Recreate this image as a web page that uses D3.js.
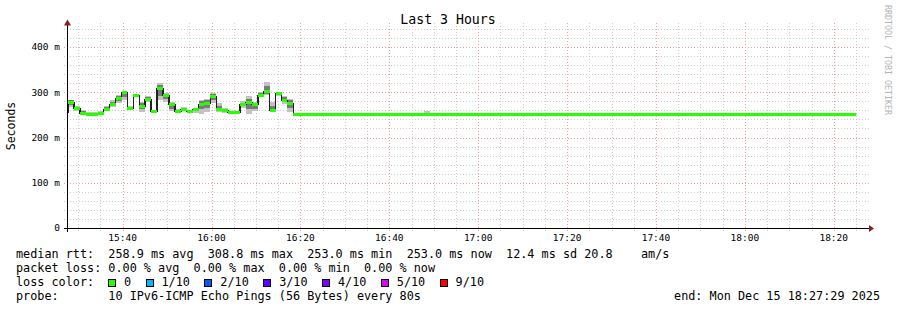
<!DOCTYPE html>
<html>
<head>
<meta charset="utf-8">
<script src="https://cdn.jsdelivr.net/npm/d3@7"></script>
<style>
  html, body { margin: 0; padding: 0; background: #fff; }
  svg { display: block; }
  text { font-family: "DejaVu Sans Mono", monospace; fill: #000; white-space: pre; }
</style>
</head>
<body>
<svg id="chart" width="897" height="310"></svg>
<script>
// time helper: all times are on Mon Dec 15 2025, local
const t = s => { const [h, m, sec] = s.split(":").map(Number); return new Date(2025, 11, 15, h, m, sec || 0); };

const rangeStart = t("15:27:29");
const rangeEnd = t("18:27:29");

// 80 s steps, first one starts before the graph and is clipped
const stepStart = t("15:26:25");
const stepSec = 80;
const medianMs = [257, 279, 265, 255, 253, 253, 255, 264, 275, 287, 300, 265, 294, 270, 286, 258, 308.8, 295, 274,
  258, 264, 258, 262, 275, 276, 292, 264, 260, 256, 256, 273, 278, 274, 295, 303, 261, 298, 283, 276];
const smokeLo = [255, 267, 259, 253, 252, 252, 253, 259, 268, 276, 284, 261, 290, 257, 278, 255, 283, 279, 258,
  255, 259, 255, 255, 253, 257, 276, 257, 255, 253, 253, 266, 253, 258, 291, 293, 258, 291, 275, 257];
const smokeHi = [262, 284, 270, 260, 256, 256, 259, 270, 282, 294, 303, 270, 297, 279, 291, 261, 321, 298, 279,
  262, 267, 261, 264, 282, 286, 299, 276, 265, 259, 259, 280, 292, 279, 300, 323, 279, 300, 292, 286];
const coreLo = [256, 272, 262, 254, 252, 252, 254, 261, 271, 281, 290, 263, 292, 262, 282, 256, 292, 286, 264,
  256, 261, 256, 258, 262, 265, 283, 260, 257, 254, 254, 269, 262, 264, 293, 297, 259, 294, 278, 265];
const coreHi = [259, 282, 268, 258, 254, 254, 257, 267, 279, 291, 302, 268, 296, 276, 289, 260, 315, 297, 277,
  260, 266, 260, 263, 280, 282, 296, 270, 263, 258, 258, 277, 286, 277, 298, 314, 270, 299, 289, 282];

// after 16:18 the median stays flat
const tailStart = t("16:18:25");
const tailEnd = t("18:25:05");
const tailMs = 253;
const blipTimes = [t("16:47:45"), t("16:49:05")];
const blipMs = [253, 259];

const yTickValues = [0, 100, 200, 300, 400];
const yTickLabels = ["0", "100 m", "200 m", "300 m", "400 m"];
const xTickLabels = ["15:40", "16:00", "16:20", "16:40", "17:00", "17:20", "17:40", "18:00", "18:20"];

const lossLabels = ["0", "1/10", "2/10", "3/10", "4/10", "5/10", "9/10"];
const lossColors = ["#26ff00", "#00b8ff", "#0059ff", "#5e00ff", "#7e00ff", "#dd00ff", "#ff0000"];

const legendRtt = "median rtt:  258.9 ms avg  308.8 ms max  253.0 ms min  253.0 ms now  12.4 ms sd 20.8    am/s";
const legendLoss = "packet loss: 0.00 % avg  0.00 % max  0.00 % min  0.00 % now";
const legendProbe = "probe:       10 IPv6-ICMP Echo Pings (56 Bytes) every 80s";
const legendEnd = "end: Mon Dec 15 18:27:29 2025";

const svg = d3.select("#chart");
const pLeft = 67, pRight = 867, pBottom = 228, pTop = 24.4;

const x = d3.scaleTime().domain([rangeStart, rangeEnd]).range([pLeft, pRight]);
const y = d3.scaleLinear().domain([0, 450]).range([pBottom, pTop]);

svg.append("rect").attr("width", 897).attr("height", 310).attr("fill", "#fff");

// grid
const grid = svg.append("g").attr("shape-rendering", "crispEdges").attr("stroke-dasharray", "1,2");
const minorY = y.ticks(23).filter(v => v % 100 !== 0);
grid.selectAll(".hy").data(minorY).join("line")
  .attr("x1", pLeft - 3).attr("x2", pRight + 2)
  .attr("y1", d => Math.round(y(d)) + 0.5).attr("y2", d => Math.round(y(d)) + 0.5)
  .attr("stroke", "#cdcdcd");
const minorX = x.ticks(d3.timeMinute.every(5)).filter(d => d.getMinutes() % 20 !== 0);
grid.selectAll(".vx").data(minorX).join("line")
  .attr("x1", d => Math.round(x(d)) + 0.5).attr("x2", d => Math.round(x(d)) + 0.5)
  .attr("y1", pTop - 1).attr("y2", pBottom + 3)
  .attr("stroke", "#cdcdcd");
grid.selectAll(".hY").data(yTickValues.filter(v => v > 0)).join("line")
  .attr("x1", pLeft - 3).attr("x2", pRight + 2)
  .attr("y1", d => Math.round(y(d)) + 0.5).attr("y2", d => Math.round(y(d)) + 0.5)
  .attr("stroke", "#e8a2a2");
grid.selectAll(".vX").data(xTickLabels.map(s => t(s))).join("line")
  .attr("x1", d => Math.round(x(d)) + 0.5).attr("x2", d => Math.round(x(d)) + 0.5)
  .attr("y1", pTop - 1).attr("y2", pBottom + 3)
  .attr("stroke", "#e8a2a2");

// data
svg.append("clipPath").attr("id", "plot").append("rect")
  .attr("x", pLeft).attr("y", 0).attr("width", pRight - pLeft).attr("height", pBottom);
const plot = svg.append("g").attr("clip-path", "url(#plot)").attr("shape-rendering", "crispEdges");

const steps = medianMs.map((m, i) => ({
  t0: d3.timeSecond.offset(stepStart, i * stepSec),
  t1: d3.timeSecond.offset(stepStart, (i + 1) * stepSec),
  med: m, lo: smokeLo[i], hi: smokeHi[i], clo: coreLo[i], chi: coreHi[i]
}));

plot.selectAll(".smoke").data(steps).join("rect")
  .attr("x", d => x(d.t0)).attr("width", d => x(d.t1) - x(d.t0))
  .attr("y", d => y(d.hi)).attr("height", d => y(d.lo) - y(d.hi))
  .attr("fill", "#c2c2c2");
plot.selectAll(".core").data(steps).join("rect")
  .attr("x", d => x(d.t0)).attr("width", d => x(d.t1) - x(d.t0))
  .attr("y", d => y(d.chi)).attr("height", d => y(d.clo) - y(d.chi))
  .attr("fill", "#7a7a7a");
plot.append("rect")
  .attr("x", x(blipTimes[0])).attr("width", x(blipTimes[1]) - x(blipTimes[0]))
  .attr("y", y(blipMs[1])).attr("height", y(blipMs[0]) - y(blipMs[1]))
  .attr("fill", "#c2c2c2");

const linePts = steps.map(d => [d.t0, d.med]).concat([[tailStart, tailMs], [tailEnd, tailMs]]);
plot.append("path")
  .attr("d", d3.line().x(d => x(d[0])).y(d => Math.round(y(d[1])) + 0.5).curve(d3.curveStepAfter)(linePts))
  .attr("fill", "none").attr("stroke", "#202020").attr("stroke-width", 1.5);

const medBars = steps.map(d => ({ t0: d.t0, t1: d.t1, med: d.med }))
  .concat([{ t0: tailStart, t1: tailEnd, med: tailMs }]);
plot.selectAll(".med").data(medBars).join("rect")
  .attr("x", d => x(d.t0)).attr("width", d => x(d.t1) - x(d.t0))
  .attr("y", d => Math.round(y(d.med)) - 1).attr("height", 3)
  .attr("fill", lossColors[0]);

// axes
const ax = svg.append("g").attr("shape-rendering", "crispEdges");
ax.append("line").attr("x1", pLeft - 3).attr("x2", pRight + 2).attr("y1", pBottom + 0.5).attr("y2", pBottom + 0.5)
  .attr("stroke", "#000");
ax.append("line").attr("x1", pLeft + 0.5).attr("x2", pLeft + 0.5).attr("y1", pTop).attr("y2", pBottom + 4)
  .attr("stroke", "#000");
svg.append("path").attr("d", `M${pRight + 2},${pBottom - 3} L${pRight + 7},${pBottom + 0.5} L${pRight + 2},${pBottom + 4} Z`)
  .attr("fill", "#8b1e1e");
svg.append("path").attr("d", `M${pLeft - 3},${pTop + 1} L${pLeft + 0.5},${pTop - 5} L${pLeft + 4},${pTop + 1} Z`)
  .attr("fill", "#8b1e1e");

svg.selectAll(".ylab").data(yTickValues).join("text")
  .attr("x", 60).attr("y", d => y(d)).attr("dy", "0.35em")
  .attr("text-anchor", "end").attr("font-size", 9.5)
  .text((d, i) => yTickLabels[i]);
svg.selectAll(".xlab").data(xTickLabels).join("text")
  .attr("x", d => x(t(d))).attr("y", 241)
  .attr("text-anchor", "middle").attr("font-size", 9.5)
  .text(d => d);

svg.append("text").attr("transform", "translate(15,126) rotate(-90)")
  .attr("text-anchor", "middle").attr("font-size", 11.5).text("Seconds");
svg.append("text").attr("x", 448).attr("y", 24).attr("text-anchor", "middle")
  .attr("font-size", 13.2).text("Last 3 Hours");
svg.append("text").attr("transform", "translate(885,5) rotate(90)")
  .attr("font-size", 8.3).style("fill", "#b4b4b4").text("RRDTOOL / TOBI OETIKER");

// legend
const lg = svg.append("g").attr("font-size", 11.8);
lg.append("text").attr("x", 16).attr("y", 258).text(legendRtt);
lg.append("text").attr("x", 16).attr("y", 272).text(legendLoss);
lg.append("text").attr("x", 16).attr("y", 286).text("loss color:");
lg.append("text").attr("x", 16).attr("y", 300).text(legendProbe);
lg.append("text").attr("x", 880).attr("y", 300).attr("text-anchor", "end").text(legendEnd);

let cx = 108;
lossLabels.forEach((lab, i) => {
  lg.append("rect").attr("x", cx + 0.5).attr("y", 279.5).attr("width", 7).attr("height", 7)
    .attr("fill", lossColors[i]).attr("stroke", "#000").attr("shape-rendering", "crispEdges");
  const tx = lg.append("text").attr("x", cx + 16).attr("y", 286).text(lab);
  cx = cx + 16 + tx.node().getComputedTextLength() + 14.4;
});
</script>
</body>
</html>
